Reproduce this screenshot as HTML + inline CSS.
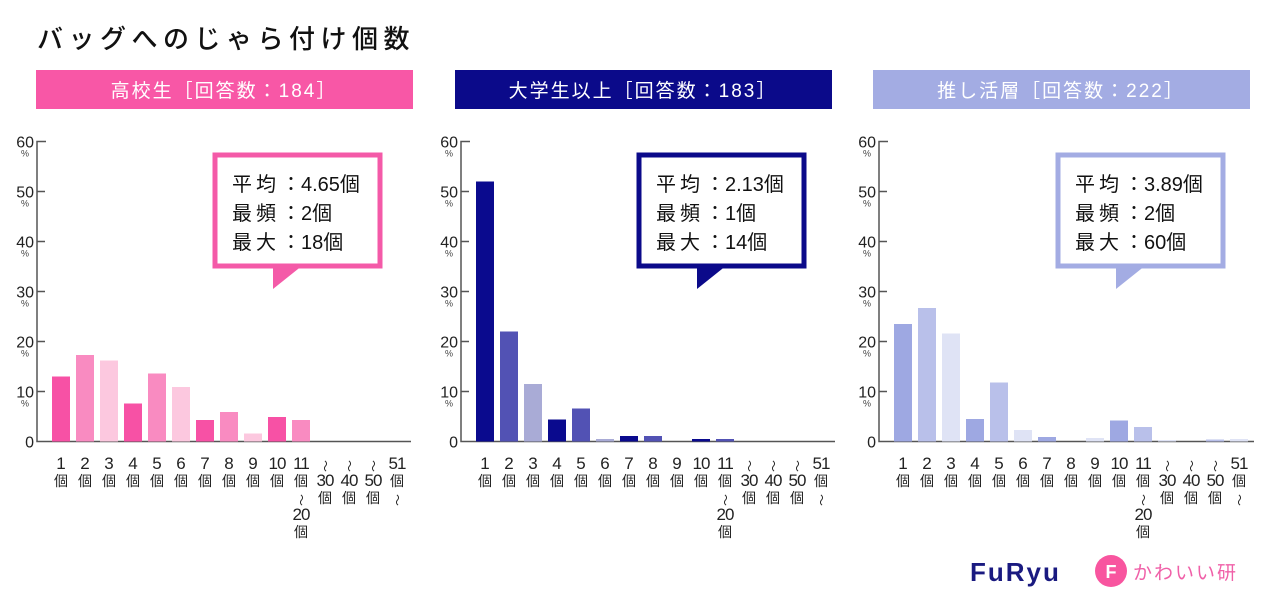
<!DOCTYPE html>
<html><head><meta charset="utf-8"><style>
body{margin:0;background:#fff;width:1280px;height:610px;overflow:hidden;font-family:"Liberation Sans","Noto Sans CJK JP",sans-serif;}
svg text{font-family:"Liberation Sans","Noto Sans CJK JP",sans-serif;}
</style></head><body>
<svg id="chart" width="1280" height="610" viewBox="0 0 1280 610">
<text x="37" y="48" font-size="26" font-weight="500" letter-spacing="5.5" fill="#111">バッグへのじゃら付け個数</text>
<g id="panels"></g>
<g><text x="970" y="581" font-size="26" font-weight="bold" fill="#1a1a80" letter-spacing="2" font-family="Liberation Sans">FuRyu</text></g>
<g>
<circle cx="1111" cy="571" r="16" fill="#f8559f"/>
<text x="1111" y="578" font-size="18" font-weight="bold" fill="#fff" text-anchor="middle">F</text>
<text x="1133" y="579" font-size="19" fill="#f060a8" letter-spacing="2">かわいい研</text>
</g>
</svg>
<script>
const categories=["1","2","3","4","5","6","7","8","9","10","11","","","","51"];
const panelTitles=["高校生［回答数：184］","大学生以上［回答数：183］","推し活層［回答数：222］"];
const highSchoolValues=[13,17.3,16.2,7.6,13.6,10.9,4.3,5.9,1.6,4.9,4.3,0,0,0,0];
const universityValues=[52,22,11.5,4.4,6.6,0.5,1.1,1.1,0,0.5,0.5,0,0,0,0];
const oshiValues=[23.5,26.7,21.6,4.5,11.8,2.3,0.9,0,0.7,4.2,2.9,0.3,0,0.4,0.5];
const yTicks=[0,10,20,30,40,50,60];
const avgLabels=["4.65個","2.13個","3.89個"];
const modeLabels=["2個","1個","2個"];
const maxLabels=["18個","14個","60個"];
const series=[highSchoolValues,universityValues,oshiValues];
const NS="http://www.w3.org/2000/svg";
const panelsG=document.getElementById('panels');
const styles=[
 {hdr:"#f857a6",hdrText:"#fff",cols:["#f751a5","#f98bc1","#fcc8df"],border:"#f45aa8",x0:36,axis:37,axisEnd:411},
 {hdr:"#0b0a8a",hdrText:"#fff",cols:["#0a0a8e","#5252b4","#a9abd6"],border:"#0b0a8a",x0:455,axis:461,axisEnd:835},
 {hdr:"#a3ace3",hdrText:"#fff",cols:["#9ea8e2","#b9c0ea","#dfe3f5"],border:"#a3ace3",x0:873,axis:879,axisEnd:1254}];
function mk(tag,attrs,parent){const e=document.createElementNS(NS,tag);for(const k in attrs)e.setAttribute(k,attrs[k]);(parent||panelsG).appendChild(e);return e;}
const y0=441.5,yScale=5.0;
function yPos(v){return y0-v*yScale;}
styles.forEach((s,p)=>{
 const g=mk('g',{});
 
 
 const hdr=mk('rect',{x:s.x0,y:70,width:377,height:39,fill:s.hdr},g);
 
 
 const ht=mk('text',{x:s.x0+188,y:97,'font-size':19,fill:s.hdrText,'text-anchor':'middle','letter-spacing':2},g);
 ht.textContent=panelTitles[p];
 
 
 const ax=mk('path',{d:`M${s.axis+9} ${yPos(60)} H${s.axis} V${y0} H${s.axisEnd}`,stroke:'#555',fill:'none','stroke-width':1.5},g);
 
 
 yTicks.forEach(t=>{
  const y=yPos(t);
  if(t>0&&t<60){mk('line',{x1:s.axis,x2:s.axis+8,y1:y,y2:y,stroke:'#555','stroke-width':1.5},g);}
  const tx=mk('text',{x:s.axis-3,y:y+6,'font-size':16,'text-anchor':'end',fill:'#222'},g);
  tx.textContent=t;
  
  
  if(t>0){const pc=mk('text',{x:s.axis-12,y:y+15,'font-size':9,'text-anchor':'middle',fill:'#444'},g);pc.textContent='%';}
 });
 const bx0=s.axis+15;
 series[p].forEach((v,i)=>{
  const x=bx0+i*24;
  const r=mk('rect',{x:x,y:yPos(v),width:18,height:v*yScale,fill:s.cols[i%3]},g);
  
  
  const cx=x+9;
  const lines=[];
  if(i<11){lines.push(categories[i]);lines.push('個');if(i==10){lines.push('〜');lines.push('20');lines.push('個');}}
  else if(i<14){lines.push('〜');lines.push(String(30+(i-11)*10));lines.push('個');}
  else{lines.push('51');lines.push('個');lines.push('〜');}
  lines.forEach((L,j)=>{
   const t=mk('text',{x:cx,y:469+j*17,'font-size':L==='〜'?12:(L==='個'?14:17),'text-anchor':'middle',fill:'#222','letter-spacing':L.length>1?-1:0},g);
   if(L==='〜'){t.setAttribute('transform',`rotate(90 ${cx} ${466+j*17})`);t.setAttribute('y',470+j*17);}
   t.textContent=L;
   
   
  });
 });
 const cxL=s.axisEnd-196, cyT=155;
 const co=mk('g',{},g);
 
 
 mk('path',{d:`M${cxL+58} ${cyT+110} L${cxL+58} ${cyT+134} L${cxL+88} ${cyT+110} Z`,fill:s.border},co);
 mk('rect',{x:cxL,y:cyT,width:165,height:111,fill:'#fff',stroke:s.border,'stroke-width':5},co);
 const rows=[["平均",avgLabels[p]],["最頻",modeLabels[p]],["最大",maxLabels[p]]];
 rows.forEach((r,j)=>{
  const a=mk('text',{x:cxL+17,y:cyT+36+j*29,'font-size':20,fill:'#111','letter-spacing':4},co);a.textContent=r[0];
  const b=mk('text',{x:cxL+66,y:cyT+36+j*29,'font-size':20,fill:'#111'},co);b.textContent='：'+r[1];
 });
});
</script>
</body></html>
